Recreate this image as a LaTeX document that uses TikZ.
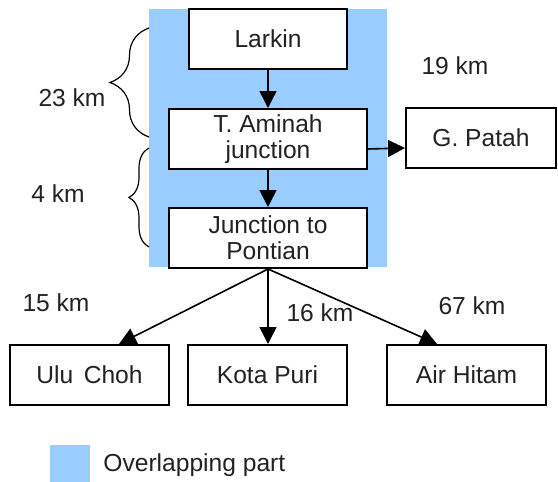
\documentclass[tikz,border=0pt]{standalone}
\usepackage{fontspec}
\setmainfont{Liberation Sans}
\usetikzlibrary{arrows.meta,decorations.pathreplacing}
\definecolor{overlap}{RGB}{153,204,255}
\definecolor{ink}{RGB}{34,34,34}

\begin{document}
\begin{tikzpicture}[x=0.5pt,y=-0.5pt,font=\fontsize{12.3}{13}\selectfont,text=ink]
\tikzstyle{town}=[draw=black,line width=1pt,fill=white,inner sep=0pt,minimum height=30pt,align=center]
\tikzstyle{road}=[draw,line width=0.8pt,-{Triangle[width=8.5pt,length=8.5pt]}]
\tikzstyle{dist}=[inner sep=0pt]
\tikzstyle{curly}=[draw,line width=0.6pt,decorate]

\useasboundingbox (0,0) rectangle (558,482);
\fill[overlap] (149,9) rectangle (387,267);

\node[town,minimum width=79pt] (larkin) at (268,38.5) {Larkin};
\node[town,minimum width=99pt] (aminah) at (268,139) {T. Aminah\\junction};
\node[town,minimum width=99pt] (pontian) at (268,238) {Junction to\\Pontian};
\node[town,minimum width=75pt] (patah) at (481,138) {G. Patah};
\node[town,minimum width=79.5pt] (ulu) at (89.5,375) {Ulu\hspace{0.15em} Choh};
\node[town,minimum width=79.5pt] (kota) at (267.5,375) {Kota Puri};
\node[town,minimum width=79.5pt] (air) at (466.5,375) {Air Hitam};

\node[dist] (d23) at (72,98) {23 km};
\node[dist] (d4) at (58,194) {4 km};
\node[dist] (d19) at (455,66) {19 km};
\node[dist] (d15) at (56,303) {15 km};
\node[dist] (d16) at (320,313) {16 km};
\node[dist] (d67) at (472,306) {67 km};

\path (larkin) edge[road] (aminah);
\path (aminah) edge[road] (pontian);
\path ([yshift=-5pt]aminah.east) edge[road] ([yshift=-5pt]patah.west);
\path (pontian.south) edge[road] (ulu.north -| 119,0);
\path (pontian.south) edge[road] (kota.north -| pontian.south);
\path (pontian.south) edge[road] (air.north -| 437,0);

% braces beside the overlap
\draw[curly,decoration={brace,amplitude=19.5pt}] (149,137) -- (149,28);
\draw[curly,decoration={brace,amplitude=10pt}] (149,247) -- (149,148);

% legend
\node[fill=overlap,minimum width=20pt,minimum height=18.5pt,inner sep=0pt] (key) at (70,463.5) {};
\node[dist,anchor=west] (keytext) at (103,465) {Overlapping part};
\end{tikzpicture}
\end{document}
